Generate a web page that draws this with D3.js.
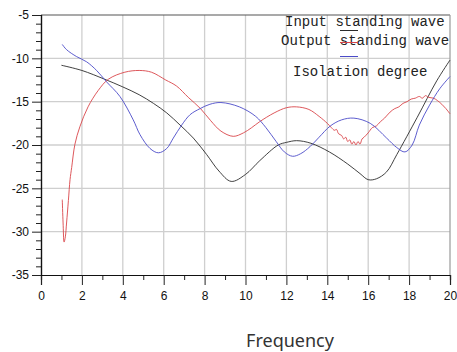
<!DOCTYPE html>
<html>
<head>
<meta charset="utf-8">
<script src="https://cdn.jsdelivr.net/npm/d3@7"></script>
<style>
  body { margin: 0; background: #fff; }
</style>
</head>
<body>
<div id="chart"></div>
<script>
// values, [frequency, dB]
const inputWave = [
  [1.0, -10.8], [2, -11.4], [3.1, -12.4], [4.0, -13.3], [4.8, -14.2], [5.5, -15.2],
  [6.15, -16.3], [6.8, -17.7], [7.45, -19.2], [8.1, -21.1], [8.7, -23.0], [9.3, -24.2],
  [10.0, -23.4], [10.7, -21.8], [11.6, -20.0], [12.0, -19.7], [12.5, -19.5],
  [13.2, -19.8], [14.1, -20.8], [15.0, -22.2], [15.6, -23.3], [16.0, -24.0],
  [16.4, -23.9], [16.9, -23.1], [17.4, -21.1], [18.4, -16.8], [19.35, -12.6],
  [20, -10.2]
];
const outputWave = [
  [1.04, -26.3], [1.08, -29.0], [1.13, -31.2], [1.19, -30.6], [1.25, -29.0],
  [1.34, -26.4], [1.42, -24.0], [1.5, -22.6], [1.66, -19.9], [1.9, -17.9],
  [2.3, -15.6], [2.8, -13.7], [3.3, -12.4], [4.1, -11.6], [4.8, -11.4],
  [5.4, -11.6], [6.1, -12.5], [6.63, -13.2], [7.2, -14.5], [7.8, -15.8],
  [8.3, -17.2], [8.8, -18.4], [9.4, -19.0], [9.9, -18.6], [10.3, -18.0],
  [10.7, -17.3], [11.4, -16.3], [12.0, -15.7], [12.5, -15.6], [13.1, -15.9],
  [13.6, -16.7], [14.0, -17.5], [14.2, -18.0], [14.35, -18.3], [14.45, -18.2],
  [14.55, -18.7], [14.7, -18.9], [14.8, -19.3], [14.9, -19.1], [15.0, -19.6],
  [15.1, -19.4], [15.2, -19.9], [15.3, -19.6], [15.4, -20.0], [15.5, -19.6],
  [15.6, -19.9], [15.7, -19.3], [15.8, -19.1], [16.0, -18.6], [16.2, -18.0],
  [16.4, -17.8], [16.6, -17.3], [16.8, -16.9], [17.07, -16.2], [17.3, -15.8],
  [17.5, -15.6], [17.7, -15.2], [17.9, -15.0], [18.1, -14.7], [18.3, -14.6],
  [18.5, -14.4], [18.65, -14.6], [18.8, -14.3], [18.95, -14.5], [19.2, -14.6],
  [19.4, -14.9], [19.6, -15.3], [19.8, -15.8], [20, -16.4]
];
const isolation = [
  [1.04, -8.4], [1.25, -9.0], [1.74, -9.8], [2.23, -10.4], [2.72, -11.4],
  [3.2, -12.7], [3.86, -14.4], [4.51, -17.1], [4.84, -18.8], [5.33, -20.4],
  [5.74, -20.9], [6.15, -20.4], [6.47, -19.2], [6.88, -17.7], [7.29, -16.5],
  [7.78, -15.8], [8.26, -15.3], [8.8, -15.1], [9.7, -15.6], [10.5, -16.7],
  [11.0, -18.0], [11.5, -19.6], [11.9, -20.8], [12.3, -21.3], [12.7, -21.0],
  [13.15, -20.2], [13.6, -19.1], [14.15, -17.8], [14.7, -17.1], [15.3, -16.9],
  [16.1, -17.5], [16.9, -19.2], [17.4, -20.3], [17.8, -20.8], [18.15, -20.0],
  [18.5, -17.7], [19.0, -15.4], [19.5, -13.5], [20, -12.1]
];

const seriesNames = ["Input standing wave", "Output standing wave", "Isolation degree"];
const seriesColors = ["#2b2b2b", "#d9454a", "#4b4bc8"];
const xTicks = [0, 2, 4, 6, 8, 10, 12, 14, 16, 18, 20];
const yTicks = [-5, -10, -15, -20, -25, -30, -35];
const xTitle = "Frequency";

let margin = { top: 15, right: 7, bottom: 77, left: 41 };
let width = 457 - margin.left - margin.right;
let height = 352 - margin.top - margin.bottom;

let x = d3.scaleLinear().domain([0, 20]).range([0, width]),
  y = d3.scaleLinear().domain([-35, -5]).range([height, 0]);

const svg = d3.select("#chart").append("svg")
  .attr("width", 457)
  .attr("height", 352);

const g = svg.append("g")
  .attr("transform", "translate(" + margin.left + "," + margin.top + ")");

/** grid */
g.append("g")
  .selectAll("line")
  .data(xTicks.filter(d => d > 0 && d < 20))
  .join("line")
  .attr("x1", d => x(d)).attr("x2", d => x(d))
  .attr("y1", 0).attr("y2", height)
  .attr("stroke", "#cfcfcf").attr("stroke-width", 1.3);

g.append("g")
  .selectAll("line")
  .data(yTicks.filter(d => d > -35 && d < -5))
  .join("line")
  .attr("x1", 0).attr("x2", width)
  .attr("y1", d => y(d)).attr("y2", d => y(d))
  .attr("stroke", "#cfcfcf").attr("stroke-width", 1.3);

// top + right frame
g.append("line").attr("x1", 0).attr("x2", width).attr("y1", 0).attr("y2", 0)
  .attr("stroke", "#555").attr("stroke-width", 1.2);
g.append("line").attr("x1", width).attr("x2", width).attr("y1", 0).attr("y2", height)
  .attr("stroke", "#999").attr("stroke-width", 1.2);

/** lines */
const line = d3.line()
  .curve(d3.curveCatmullRom.alpha(0.5))
  .x(d => x(d[0]))
  .y(d => y(d[1]));

[inputWave, outputWave, isolation].forEach((s, i) => {
  g.append("path")
    .datum(s)
    .attr("fill", "none")
    .attr("stroke", seriesColors[i])
    .attr("stroke-width", 0.9)
    .attr("d", line);
});

/** AXIS */
const xAxisMinor = d3.axisBottom(x).tickValues(d3.range(1, 20, 2)).tickSize(5).tickFormat("");
const xAxis = d3.axisBottom(x).tickValues(xTicks).tickSize(10).tickPadding(6).tickFormat(d3.format("d"));
const yAxisMinor = d3.axisLeft(y).tickValues(d3.range(-34, -5, 1).filter(d => d % 5 !== 0)).tickSize(5).tickFormat("");
const yAxis = d3.axisLeft(y).tickValues(yTicks).tickSize(9).tickPadding(3).tickFormat(d => d);

function styleAxis(a) {
  a.selectAll(".domain").attr("stroke", "#111").attr("stroke-width", 1.2);
  a.selectAll(".tick line").attr("stroke", "#222");
  a.selectAll(".tick text")
    .style("font-family", "Liberation Sans, Arial, sans-serif")
    .style("font-size", "12px")
    .attr("fill", "#111");
}

g.append("g").attr("transform", "translate(0," + height + ")").call(xAxisMinor).call(styleAxis);
g.append("g").attr("transform", "translate(0," + height + ")").call(xAxis).call(styleAxis);
g.append("g").call(yAxisMinor).call(styleAxis);
g.append("g").call(yAxis).call(styleAxis);

/** legend */
const legendText = [
  { x: 285, y: 26 },
  { x: 281, y: 45 },
  { x: 293, y: 76 }
];
const legendLine = [30.5, 42.5, 56.5];

seriesNames.forEach((name, i) => {
  svg.append("text")
    .attr("x", legendText[i].x)
    .attr("y", legendText[i].y)
    .style("font-family", "Liberation Mono, monospace")
    .style("font-size", "14px")
    .attr("fill", "#222")
    .text(name);
  svg.append("line")
    .attr("x1", 340).attr("x2", 358)
    .attr("y1", legendLine[i]).attr("y2", legendLine[i])
    .attr("stroke", seriesColors[i])
    .attr("stroke-width", 1);
});

svg.append("text")
  .attr("x", 290)
  .attr("y", 347)
  .style("text-anchor", "middle")
  .style("font-family", "Noto Sans, Open Sans, sans-serif")
  .style("font-size", "18px")
  .attr("fill", "#333")
  .text(xTitle);
</script>
</body>
</html>
